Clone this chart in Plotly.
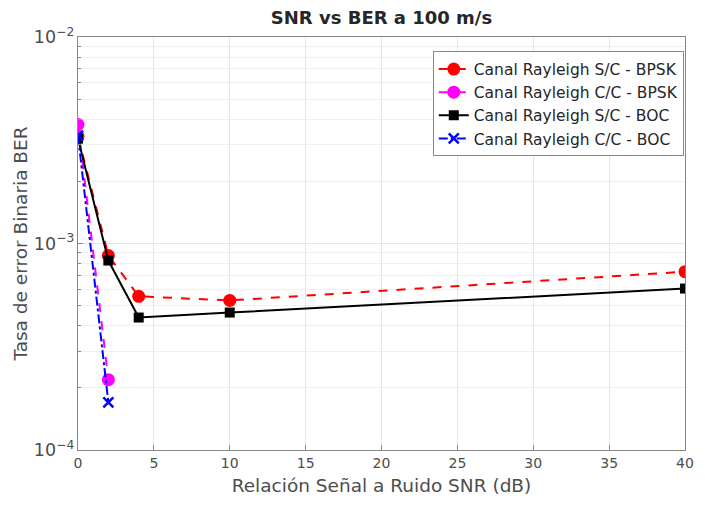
import plotly.graph_objects as go

# SNR points (dB)
snr_full = [0, 2, 4, 10, 40]
snr_short = [0, 2]

# Bit error rate for each channel / modulation
ber_sc_bpsk = [3.3e-3, 8.75e-4, 5.55e-4, 5.3e-4, 7.3e-4]
ber_cc_bpsk = [3.77e-3, 2.19e-4]
ber_sc_boc = [3.22e-3, 8.27e-4, 4.38e-4, 4.63e-4, 6.05e-4]
ber_cc_boc = [3.33e-3, 1.70e-4]

names = [
    "Canal Rayleigh S/C - BPSK",
    "Canal Rayleigh C/C - BPSK",
    "Canal Rayleigh S/C - BOC",
    "Canal Rayleigh C/C - BOC",
]

x_ticks = [0, 5, 10, 15, 20, 25, 30, 35, 40]

FONT = "DejaVu Sans, Liberation Sans, Arial"

fig = go.Figure()
fig.add_trace(go.Scatter(
    x=snr_full, y=ber_sc_bpsk, name=names[0], mode="lines+markers",
    line=dict(color="#ff0000", width=2, dash="dash"),
    marker=dict(symbol="circle", size=13, color="#ff0000"),
))
fig.add_trace(go.Scatter(
    x=snr_short, y=ber_cc_bpsk, name=names[1], mode="lines+markers",
    line=dict(color="#ff00ff", width=2, dash="dash"),
    marker=dict(symbol="circle", size=13, color="#ff00ff"),
))
fig.add_trace(go.Scatter(
    x=snr_full, y=ber_sc_boc, name=names[2], mode="lines+markers",
    line=dict(color="#000000", width=2),
    marker=dict(symbol="square", size=10, color="#000000"),
))
fig.add_trace(go.Scatter(
    x=snr_short, y=ber_cc_boc, name=names[3], mode="lines+markers",
    line=dict(color="#0000ff", width=2, dash="dashdot"),
    marker=dict(symbol="x-thin", size=10, color="#0000ff",
                line=dict(color="#0000ff", width=2.5)),
))

axis_common = dict(
    showline=True, linecolor="#888888", linewidth=1, mirror=True,
    ticks="inside", ticklen=5, tickcolor="#888888",
    showgrid=True, gridcolor="#e6e6e6", gridwidth=1,
    zeroline=False,
    tickfont=dict(family=FONT, size=14, color="#4d4d4d"),
)

fig.update_xaxes(
    range=[0, 40], tickvals=x_ticks,
    title=dict(text="Relación Señal a Ruido SNR (dB)",
               font=dict(family=FONT, size=18.5, color="#4d4d4d"),
               standoff=9),
    **axis_common,
)
fig.update_yaxes(
    type="log", range=[-4, -2], dtick=1, exponentformat="power",
    minor=dict(showgrid=True, gridcolor="#f0f0f0", ticks="inside",
               ticklen=3, tickcolor="#888888"),
    title=dict(text="Tasa de error Binaria BER",
               font=dict(family=FONT, size=18.5, color="#4d4d4d"),
               standoff=1),
    **axis_common,
)

fig.update_layout(
    width=705, height=510,
    margin=dict(l=78, r=11, t=37, b=60),
    paper_bgcolor="white", plot_bgcolor="white",
    title=dict(text="<b>SNR vs BER a 100 m/s</b>", xref="paper", x=0.5,
               xanchor="center", y=0.965, yanchor="middle",
               font=dict(family=FONT, size=18, color="#262626")),
    legend=dict(
        x=0.998, y=0.965, xanchor="right", yanchor="top",
        bgcolor="white", bordercolor="#888888", borderwidth=1,
        font=dict(family=FONT, size=15.5, color="#262626"),
        tracegroupgap=0,
    ),
    showlegend=True,
)

fig.write_html("out.html")
